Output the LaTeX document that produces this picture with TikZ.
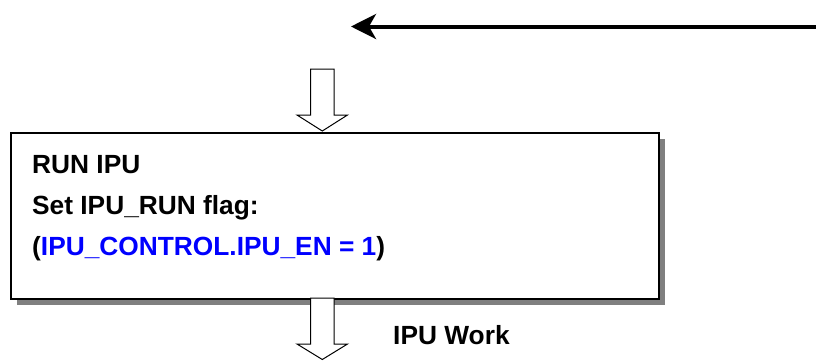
\documentclass[tikz,border=0pt]{standalone}
\usepackage{fontspec}
\setmainfont{Liberation Sans}
\usetikzlibrary{arrows.meta,shadows}
\definecolor{txtblue}{RGB}{0,0,255}
\definecolor{shadowgray}{RGB}{128,128,128}
\begin{document}
\begin{tikzpicture}[x=1pt,y=-1pt,
  lbl/.style={anchor=base west,inner sep=0pt,font=\fontsize{26.3}{32}\selectfont\bfseries},
  boxstyle/.style={draw=black,line width=1.5pt,fill=white,anchor=north west,
    minimum width=648pt,minimum height=166pt,inner sep=0pt,
    drop shadow={shadow xshift=6pt,shadow yshift=-6pt,fill=shadowgray,opacity=1}},
  blockarrow/.style={draw=black,line width=1pt,fill=white,line join=miter},
  bigarrow/.style={line width=4pt,-{Stealth[length=25pt,width=25pt,inset=7pt]}}]
\useasboundingbox (0,0) rectangle (816,360);
% top arrow
\coordinate (start) at (816,26.5);
\coordinate (end) at (351,26.5);
\draw[bigarrow] (start) -- (end);
% box
\node[boxstyle] (box) at (10,132) {};
% texts
\node[lbl] (t1) at (32,173) {RUN IPU};
\node[lbl] (t2) at (32,214) {Set IPU\_RUN flag:};
\node[lbl] (t3) at (32,255) {(\textcolor{txtblue}{IPU\_CONTROL.IPU\_EN = 1})};
% block arrows
\draw[blockarrow] (310.7,69) -- (334,69) -- (334,115) -- (347.5,115) -- (322.3,131) -- (297,115) -- (310.7,115) -- cycle;
\draw[blockarrow] (310.7,298) -- (334,298) -- (334,344) -- (347.5,344) -- (322.3,359.5) -- (297,344) -- (310.7,344) -- cycle;
\node[lbl] (work) at (393,344) {IPU Work};
\end{tikzpicture}
\end{document}
